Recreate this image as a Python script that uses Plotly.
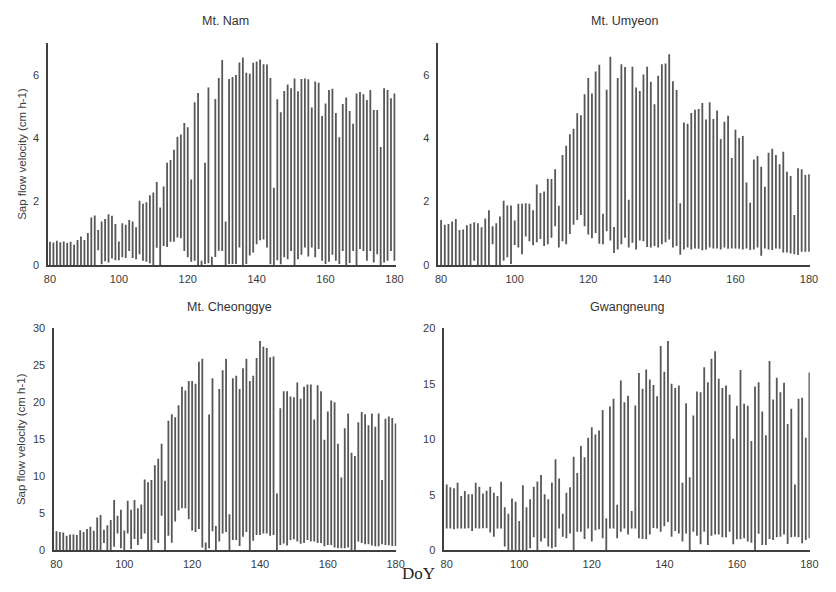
import plotly.graph_objects as go

W, H = 836, 592

# Day of year for every daily bar
doy = list(range(80, 181))

# Daily maximum / minimum sap flow velocity (cm h-1) for each site
nam_hi = [0.73, 0.71, 0.76, 0.72, 0.74, 0.69, 0.73, 0.64, 0.79, 0.90,
          0.79, 1.01, 1.50, 1.56, 1.10, 1.37, 1.45, 1.60, 1.55, 1.29,
          0.74, 1.32, 1.27, 1.42, 1.37, 1.19, 2.03, 1.93, 1.98, 2.20,
          2.29, 2.62, 1.81, 2.48, 3.23, 3.31, 3.64, 4.05, 4.12, 4.48,
          4.35, 2.70, 5.14, 5.43, 0.13, 3.23, 5.60, 0.26, 5.24, 5.90,
          6.47, 1.37, 5.87, 5.93, 6.00, 6.39, 6.55, 6.07, 6.04, 6.38,
          6.42, 6.49, 6.34, 6.33, 5.90, 2.44, 5.23, 4.82, 5.49, 5.70,
          5.58, 5.89, 5.48, 5.87, 5.89, 5.86, 4.97, 5.79, 5.75, 4.70,
          5.10, 5.52, 5.56, 4.80, 4.03, 5.08, 5.29, 4.86, 4.46, 5.41,
          5.46, 5.39, 5.21, 5.52, 4.89, 4.89, 3.72, 5.58, 5.52, 5.26,
          5.41]
nam_lo = [0, 0, 0, 0, 0, 0, 0, 0, 0, 0,
          0, 0, 0, 0, 0.46, 0.02, 0.12, 0.08, 0.20, 0.15,
          0.15, 0.24, 0.22, 0.44, 0.22, 0.18, 0.34, 0.13, 0.10, 0.05,
          0, 0.54, 0, 0.60, 0.57, 0.73, 0.73, 0.87, 0.84, 0.44,
          0.24, 0.10, 0.13, 0, 0, 0.03, 0.05, 0, 0.25, 0.45,
          0.44, 0, 0.03, 0.03, 0.03, 0.55, 0, 0.03, 0.30, 0.39,
          0.65, 0.78, 0.80, 0.55, 0.02, 0, 0.15, 0.02, 0.24, 0.18,
          0.44, 0, 0.18, 0.32, 0.55, 0.27, 0.55, 0.24, 0.50, 0.13,
          0.03, 0.10, 0.32, 0.13, 0.03, 0.44, 0, 0.06, 0.44, 0,
          0.50, 0.44, 0.13, 0.44, 0.08, 0.34, 0, 0.08, 0.13, 0.44,
          0.13]

umy_hi = [1.42, 1.27, 1.29, 1.37, 1.45, 1.10, 1.12, 1.25, 1.30, 1.35,
          1.32, 1.19, 1.47, 1.73, 1.22, 1.32, 1.53, 2.03, 1.88, 1.88,
          1.40, 1.93, 1.93, 1.95, 1.93, 1.73, 2.54, 2.27, 2.32, 2.72,
          2.71, 3.02, 1.87, 3.47, 3.76, 4.13, 4.30, 4.79, 4.73, 5.39,
          5.90, 5.41, 6.11, 6.32, 1.62, 5.53, 6.57, 1.20, 5.90, 6.34,
          6.25, 2.06, 6.26, 5.60, 5.49, 6.01, 6.26, 5.78, 5.07, 5.97,
          6.34, 6.36, 6.65, 5.80, 5.52, 1.95, 4.50, 4.46, 4.80, 4.90,
          4.92, 5.11, 4.59, 5.14, 4.61, 4.88, 3.98, 4.52, 4.71, 3.38,
          4.27, 4.01, 4.07, 2.60, 1.96, 3.33, 3.44, 3.10, 2.47, 3.54,
          3.67, 3.47, 3.18, 3.57, 2.94, 2.81, 1.58, 3.05, 3.02, 2.84,
          2.86]
umy_lo = [0, 0, 0, 0, 0, 0, 0, 0, 0, 0.13,
          0, 0, 0, 0, 0.65, 0, 0, 0.13, 0.24, 0.03,
          0.63, 0.55, 0.34, 0.90, 0.75, 0.62, 0.72, 0.82, 0.60, 0.65,
          0.86, 1.22, 0.55, 0.75, 0.65, 0.98, 1.27, 1.42, 1.58, 1.22,
          0.96, 0.84, 1.01, 0.67, 0.65, 1.06, 0.77, 0.38, 0.49, 0.65,
          0.86, 0.55, 0.70, 0.49, 0.77, 0.75, 0.57, 0.55, 0.60, 0.55,
          0.65, 0.72, 0.80, 0.55, 0.60, 0.32, 0.49, 0.55, 0.49, 0.52,
          0.51, 0.46, 0.49, 0.55, 0.52, 0.52, 0.49, 0.55, 0.51, 0.52,
          0.52, 0.51, 0.49, 0.52, 0.47, 0.49, 0.55, 0.29, 0.52, 0.49,
          0.47, 0.52, 0.51, 0.39, 0.39, 0.36, 0.34, 0.31, 0.42, 0.42,
          0.42]

che_hi = [2.60, 2.50, 2.43, 2.00, 2.16, 2.16, 2.07, 2.73, 2.50, 2.90,
          3.20, 2.65, 4.45, 4.80, 2.80, 3.40, 4.10, 6.80, 4.70, 5.50,
          2.70, 6.70, 5.50, 6.80, 5.70, 6.20, 9.57, 9.20, 9.50, 11.50,
          12.40, 14.40, 9.40, 17.50, 18.40, 18.00, 19.60, 22.10, 21.60, 22.90,
          22.90, 22.50, 25.50, 25.90, 1.06, 18.35, 23.25, 3.30, 21.80, 24.35,
          25.90, 4.90, 23.25, 23.60, 21.80, 24.60, 25.90, 22.90, 23.60, 26.00,
          28.30, 27.50, 27.35, 26.10, 26.20, 7.70, 19.20, 21.50, 21.50, 20.80,
          20.70, 22.70, 20.50, 22.10, 22.40, 22.40, 17.70, 22.30, 21.50, 14.95,
          18.75, 20.25, 20.00, 14.40, 9.84, 16.50, 18.50, 13.20, 12.75, 17.30,
          18.70, 18.40, 16.90, 18.50, 16.70, 18.50, 9.50, 17.80, 18.10, 17.90,
          17.16]
che_lo = [0, 0, 0, 0, 0, 0, 0, 0, 0, 0,
          0, 0, 0, 0, 1.00, 0, 0, 0.50, 2.30, 0.30,
          0, 2.30, 0.20, 1.55, 0.75, 1.55, 2.30, 0, 0, 1.40,
          1.00, 4.70, 0, 2.00, 1.05, 3.90, 5.40, 5.70, 5.70, 4.20,
          2.70, 2.50, 2.90, 0.40, 0, 0.30, 2.60, 0, 1.20, 2.30,
          2.50, 0, 1.40, 1.40, 0.60, 1.85, 2.50, 0, 1.30, 2.10,
          2.10, 2.30, 2.30, 2.00, 2.10, 0, 0.75, 0.95, 0.65, 1.40,
          1.50, 1.20, 0.90, 1.00, 1.40, 1.20, 1.20, 1.00, 1.00, 0.55,
          0.75, 0.75, 0.40, 0.30, 0.30, 0.30, 0.40, 0, 0, 1.20,
          1.00, 0.85, 0.85, 0.65, 0.55, 0.55, 0.85, 0.75, 0.70, 0.60,
          0.60]

gwa_hi = [5.94, 5.70, 5.60, 6.10, 4.90, 5.35, 5.06, 5.06, 6.10, 5.74,
          5.12, 5.38, 5.74, 5.20, 4.90, 6.18, 3.88, 3.30, 4.68, 4.38,
          2.65, 5.88, 3.88, 4.62, 5.74, 6.20, 6.80, 5.06, 4.62, 6.12,
          8.20, 6.47, 3.30, 5.20, 5.68, 8.44, 6.97, 9.40, 8.38, 10.15,
          11.10, 10.44, 10.80, 12.65, 2.90, 12.97, 13.65, 4.12, 15.30, 13.35,
          13.94, 3.56, 13.06, 15.97, 14.56, 16.30, 15.40, 14.90, 13.88, 18.40,
          16.10, 18.85, 15.00, 14.62, 14.85, 6.10, 13.26, 6.60, 12.15, 14.32,
          14.24, 16.50, 15.15, 17.26, 17.94, 15.47, 14.62, 14.85, 14.03, 10.06,
          13.03, 16.24, 13.20, 13.03, 9.85, 14.76, 15.15, 12.50, 10.38, 17.06,
          13.59, 15.56, 14.24, 15.09, 11.38, 12.76, 5.94, 13.65, 13.74, 10.15,
          16.03]
gwa_lo = [1.97, 1.97, 1.90, 1.97, 1.97, 1.97, 2.00, 1.76, 2.00, 1.97,
          2.00, 2.00, 1.62, 1.24, 1.97, 1.97, 0.35, 0, 0, 0,
          0, 0, 0, 0.20, 1.18, 0, 0.80, 1.10, 0.35, 0.20,
          0.30, 1.97, 1.24, 1.10, 1.53, 0, 1.68, 1.68, 1.03, 1.97,
          0.80, 1.82, 1.91, 1.10, 0, 1.97, 1.97, 1.10, 1.68, 1.97,
          1.44, 1.97, 1.97, 1.10, 1.03, 1.00, 1.44, 2.03, 1.97, 1.68,
          2.18, 2.56, 1.24, 1.74, 1.53, 0.80, 1.53, 0, 1.68, 1.32,
          0.56, 1.68, 0.50, 1.32, 1.44, 1.44, 1.18, 1.18, 1.68, 0.56,
          1.00, 1.00, 1.10, 0.80, 0.70, 0, 1.50, 0.50, 0.50, 1.03,
          0.94, 1.18, 1.24, 1.44, 0.59, 1.18, 1.24, 1.18, 0.65, 0.94,
          1.10]

sites = ["Mt. Nam", "Mt. Umyeon", "Mt. Cheonggye", "Gwangneung"]
series = [(nam_lo, nam_hi), (umy_lo, umy_hi), (che_lo, che_hi), (gwa_lo, gwa_hi)]
y_max = [7, 7, 30, 20]
y_dtick = [2, 2, 5, 5]

# Panel geometry in pixels: (left, right, top, bottom) and x range of each axis
boxes = [(44.7, 398, 38, 264.3), (441.3, 818.5, 38, 264.3),
         (51, 398.5, 329, 555.7), (447.3, 818.5, 329, 555.7)]
x_ranges = [[79.43, 180.4], [79.28, 180.2], [79.33, 180.2], [79.35, 180.1]]
# vertical pixel position of each panel heading
title_y = [15, 15, 307, 307]

BAR = "#575757"
AXIS = "#3f3f3f"
FONT = "Arial, Liberation Sans, sans-serif"

fig = go.Figure()
layout = dict(
    width=W, height=H, margin=dict(l=0, r=0, t=0, b=0),
    paper_bgcolor="white", plot_bgcolor="white", showlegend=False,
    font=dict(family=FONT, size=11, color="#404040"),
)
annotations = []

for i, (name, (lo, hi)) in enumerate(zip(sites, series)):
    n = i + 1
    xa = "x" if n == 1 else f"x{n}"
    ya = "y" if n == 1 else f"y{n}"
    # daily range drawn as a vertical segment from minimum to maximum
    xs, ys = [], []
    for d, a, b in zip(doy, lo, hi):
        xs += [d, d, None]
        ys += [a, b, None]
    fig.add_trace(go.Scatter(x=xs, y=ys, mode="lines", xaxis=xa, yaxis=ya,
                             line=dict(color=BAR, width=1.8), hoverinfo="skip"))

    l, r, t, b = boxes[i]
    key = "" if n == 1 else str(n)
    layout["xaxis" + key] = dict(
        domain=[l / W, r / W], range=x_ranges[i], anchor=ya,
        tickmode="array", tickvals=[80, 100, 120, 140, 160, 180],
        showgrid=False, zeroline=False, ticks="",
        showline=True, linecolor=AXIS, linewidth=1.6,
        tickfont=dict(size=11, color="#3a3a3a"), ticklabelstandoff=3,
    )
    layout["yaxis" + key] = dict(
        domain=[1 - b / H, 1 - t / H], range=[0, y_max[i]], anchor=xa,
        tickmode="linear", tick0=0, dtick=y_dtick[i],
        showgrid=False, zeroline=False, ticks="",
        showline=True, linecolor=AXIS, linewidth=1.6,
        tickfont=dict(size=11, color="#3a3a3a"), ticklabelstandoff=5,
    )
    # panel heading
    annotations.append(dict(
        text=name, xref="paper", yref="paper",
        x=(l + r) / 2 / W + (4 / W if i % 2 == 0 else 0),
        y=1 - title_y[i] / H, xanchor="center", yanchor="middle",
        showarrow=False, font=dict(family=FONT, size=12.5, color="#333333"),
    ))

# y-axis titles for the left column
for t, b in [(38, 264.3), (329, 555.7)]:
    annotations.append(dict(
        text="Sap flow velocity (cm h-1)", xref="paper", yref="paper",
        x=18 / W, y=1 - (t + b) / 2 / H, textangle=-90,
        xanchor="center", yanchor="middle", showarrow=False,
        font=dict(family=FONT, size=11.5, color="#404040"),
    ))

# shared x-axis title
annotations.append(dict(
    text="DoY", xref="paper", yref="paper", x=421 / W, y=1 - 579 / H,
    xanchor="center", yanchor="middle", showarrow=False,
    font=dict(family="Liberation Serif, Times New Roman, serif", size=17, color="#222222"),
))

layout["annotations"] = annotations
fig.update_layout(**layout)
fig.write_html("out.html")
